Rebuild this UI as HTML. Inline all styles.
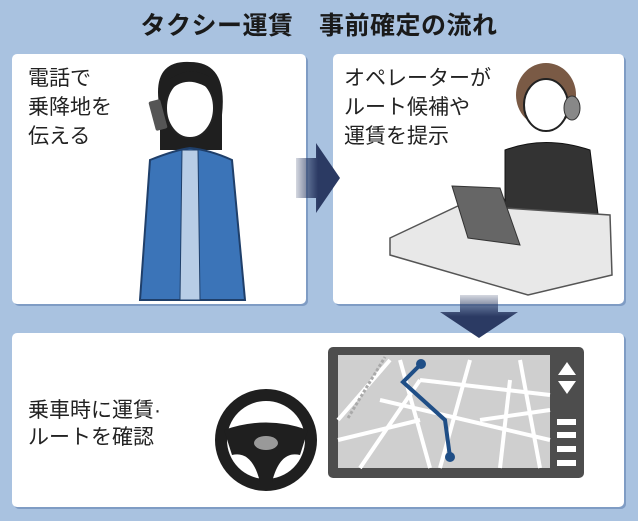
<!DOCTYPE html>
<html><head><meta charset="utf-8"><style>
body{margin:0;width:638px;height:521px;background:#a9c2e0;position:relative;overflow:hidden;font-family:"Liberation Sans","Noto Sans CJK JP",sans-serif;}
.t{position:absolute;left:0;width:638px;top:6px;text-align:center;font-size:25px;font-weight:bold;color:#1a1a1a;letter-spacing:0.5px}
.p{position:absolute;background:#fff;border-radius:5px;box-shadow:2px 2px 0 #7f9cc4}
.tx{position:absolute;font-size:21px;line-height:29px;color:#222}
</style></head><body>
<div class="t">タクシー運賃　事前確定の流れ</div>
<div class="p" style="left:12px;top:54px;width:294px;height:250px"></div>
<div class="p" style="left:333px;top:54px;width:291px;height:250px"></div>
<div class="p" style="left:12px;top:333px;width:612px;height:174px"></div>
<div class="tx" style="left:28px;top:64px">電話で<br>乗降地を<br>伝える</div>
<div class="tx" style="left:344px;top:64px">オペレーターが<br>ルート候補や<br>運賃を提示</div>
<div class="tx" style="left:28px;top:397px;line-height:27px">乗車時に運賃·<br>ルートを確認</div>
<svg width="638" height="521" style="position:absolute;left:0;top:0">
<defs><linearGradient id="g" x1="0" x2="1"><stop offset="0" stop-color="#2b3a63" stop-opacity="0.2"/><stop offset="0.5" stop-color="#2b3a63"/></linearGradient>
<linearGradient id="g2" x1="0" y1="0" x2="0" y2="1"><stop offset="0" stop-color="#2b3a63" stop-opacity="0.2"/><stop offset="0.5" stop-color="#2b3a63"/></linearGradient></defs>
<polygon points="296,158 316,158 316,143 340,178 316,213 316,198 296,198" fill="url(#g)"/>
<polygon points="460,295 498,295 498,312 518,312 479,338 440,312 460,312" fill="url(#g2)"/>
<!-- woman -->
<path d="M160,110 Q150,60 190,62 Q228,62 222,115 L222,150 L160,150Z" fill="#1f1f1f"/>
<ellipse cx="190" cy="108" rx="24" ry="30" fill="#fff" stroke="#222" stroke-width="2"/>
<path d="M166,95 Q185,70 214,92 L214,80 Q190,62 166,82Z" fill="#1f1f1f"/>
<path d="M150,160 Q175,150 190,148 Q210,150 232,160 L245,300 L140,300Z" fill="#3b74b8" stroke="#1f3f6a" stroke-width="2"/>
<path d="M182,150 L198,150 L200,300 L180,300Z" fill="#b8cde6" stroke="#1f3f6a"/>
<rect x="152" y="100" width="12" height="30" rx="2" fill="#555" transform="rotate(-15 158 115)"/>
<!-- operator -->
<ellipse cx="546" cy="95" rx="30" ry="32" fill="#7a5a45"/>
<ellipse cx="546" cy="105" rx="22" ry="26" fill="#fff" stroke="#222" stroke-width="2"/>
<ellipse cx="572" cy="108" rx="8" ry="12" fill="#888" stroke="#333"/>
<path d="M505,150 Q545,135 590,150 L600,230 L505,230Z" fill="#333" stroke="#111"/>
<polygon points="390,238 460,205 610,215 612,275 528,295 390,255" fill="#e8e8e8" stroke="#555" stroke-width="1.5"/>
<polygon points="452,186 500,188 520,245 468,238" fill="#666" stroke="#333"/>
<!-- wheel -->
<circle cx="266" cy="440" r="45" fill="none" stroke="#1f1f1f" stroke-width="12"/>
<path d="M224,430 Q266,415 308,430 L300,455 Q280,450 272,482 L260,482 Q252,450 232,455Z" fill="#1f1f1f"/>
<ellipse cx="266" cy="443" rx="12" ry="7" fill="#999"/>
<!-- nav -->
<rect x="328" y="347" width="256" height="131" rx="5" fill="#4d4d4d"/>
<rect x="338" y="355" width="212" height="113" fill="#cfcfcf"/>
<g stroke="#fff" stroke-width="4" fill="none">
<path d="M338,420 L390,360 M360,468 L420,380 M420,380 L550,395 M380,400 L550,440 M440,468 L470,360 M500,468 L510,380 M338,440 L420,420 M400,360 L430,468 M480,420 L550,410 M520,360 L540,468"/>
</g>
<path d="M348,418 L385,357" stroke="#aaa" stroke-width="3" stroke-dasharray="3 2"/>
<polyline points="421,364 403,382 445,420 450,457" fill="none" stroke="#1f4e86" stroke-width="4"/>
<circle cx="421" cy="364" r="5" fill="#1f4e86"/><circle cx="450" cy="457" r="5" fill="#1f4e86"/>
<polygon points="567,362 558,375 576,375" fill="#fff"/><polygon points="558,381 576,381 567,394" fill="#fff"/>
<g fill="#fff"><rect x="557" y="419" width="19" height="6"/><rect x="557" y="432" width="19" height="6"/><rect x="557" y="446" width="19" height="6"/><rect x="557" y="460" width="19" height="6"/></g>
</svg>
</body></html>
